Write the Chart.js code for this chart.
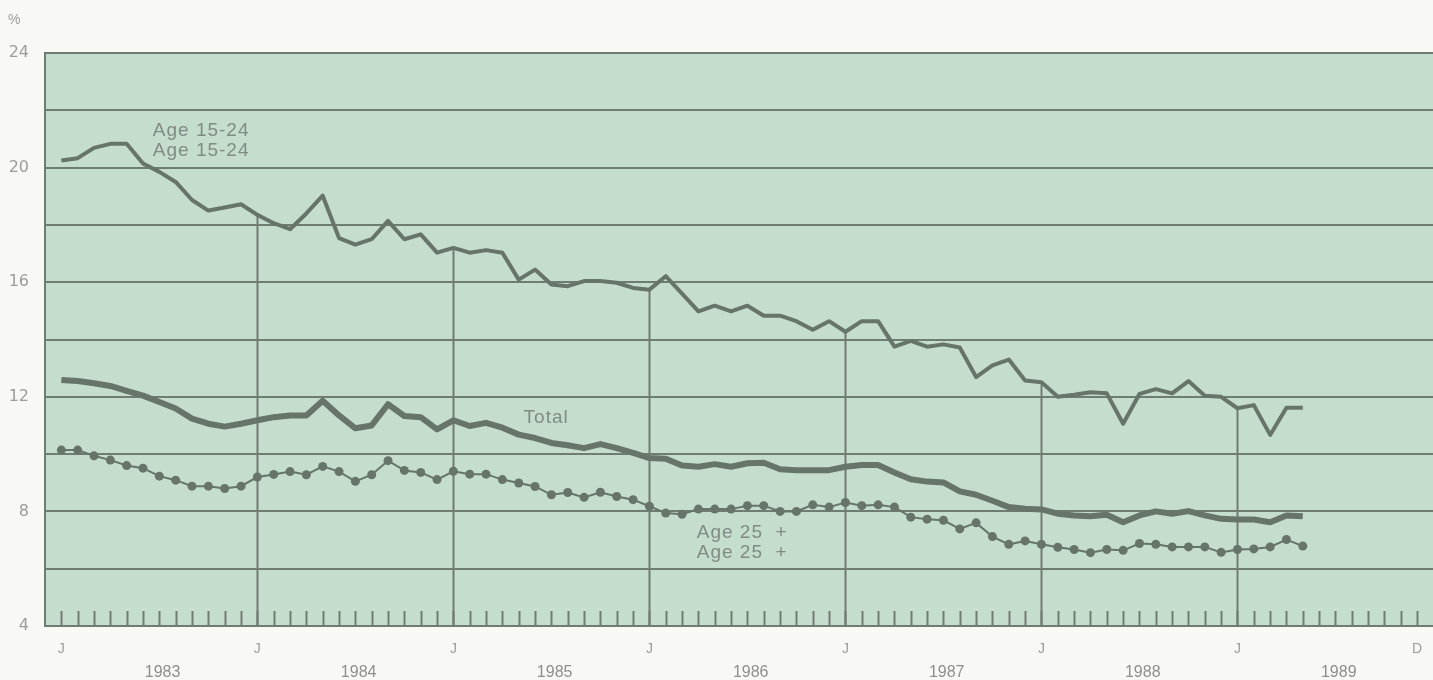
<!DOCTYPE html>
<html>
<head>
<meta charset="utf-8">
<script src="https://cdn.jsdelivr.net/npm/chart.js@4/dist/chart.umd.min.js"></script>
<style>
  html, body { margin: 0; padding: 0; background: #f8f8f5; overflow: hidden; }
  #wrap { width: 1433px; height: 680px; position: relative; overflow: hidden; }
  #c { display: block; }
</style>
</head>
<body>
<div id="wrap"><canvas id="c" width="1438" height="680"></canvas></div>
<script>
// ---------- DATA ----------
const months = [
  'Jan 1983','Feb 1983','Mar 1983','Apr 1983','May 1983','Jun 1983','Jul 1983','Aug 1983','Sep 1983','Oct 1983','Nov 1983','Dec 1983',
  'Jan 1984','Feb 1984','Mar 1984','Apr 1984','May 1984','Jun 1984','Jul 1984','Aug 1984','Sep 1984','Oct 1984','Nov 1984','Dec 1984',
  'Jan 1985','Feb 1985','Mar 1985','Apr 1985','May 1985','Jun 1985','Jul 1985','Aug 1985','Sep 1985','Oct 1985','Nov 1985','Dec 1985',
  'Jan 1986','Feb 1986','Mar 1986','Apr 1986','May 1986','Jun 1986','Jul 1986','Aug 1986','Sep 1986','Oct 1986','Nov 1986','Dec 1986',
  'Jan 1987','Feb 1987','Mar 1987','Apr 1987','May 1987','Jun 1987','Jul 1987','Aug 1987','Sep 1987','Oct 1987','Nov 1987','Dec 1987',
  'Jan 1988','Feb 1988','Mar 1988','Apr 1988','May 1988','Jun 1988','Jul 1988','Aug 1988','Sep 1988','Oct 1988','Nov 1988','Dec 1988',
  'Jan 1989','Feb 1989','Mar 1989','Apr 1989','May 1989'
];

const age15to24 = [
  20.25, 20.33, 20.69, 20.83, 20.83, 20.14, 19.85, 19.50, 18.87, 18.50, 18.61, 18.72,
  18.35, 18.06, 17.85, 18.40, 19.02, 17.54, 17.31, 17.50, 18.14, 17.50, 17.67, 17.03,
  17.20, 17.03, 17.12, 17.03, 16.09, 16.44, 15.92, 15.86, 16.04, 16.04, 15.98, 15.80,
  15.74, 16.21, 15.60, 14.98, 15.18, 14.98, 15.18, 14.83, 14.83, 14.64, 14.34, 14.64,
  14.27, 14.64, 14.64, 13.75, 13.95, 13.75, 13.83, 13.72, 12.69, 13.10, 13.30, 12.57,
  12.51, 12.00, 12.07, 12.16, 12.12, 11.06, 12.10, 12.27, 12.12, 12.55, 12.04, 12.00,
  11.60, 11.71, 10.67, 11.62, 11.62
];

const total = [
  12.59, 12.55, 12.47, 12.38, 12.21, 12.04, 11.82, 11.59, 11.24, 11.06, 10.96, 11.06,
  11.18, 11.29, 11.35, 11.35, 11.86, 11.35, 10.90, 11.00, 11.74, 11.33, 11.29, 10.86,
  11.18, 10.98, 11.09, 10.92, 10.68, 10.56, 10.39, 10.31, 10.21, 10.35, 10.21, 10.04,
  9.86, 9.84, 9.60, 9.56, 9.65, 9.56, 9.68, 9.70, 9.47, 9.44, 9.44, 9.44,
  9.56, 9.62, 9.62, 9.36, 9.12, 9.04, 9.01, 8.70, 8.58, 8.37, 8.15, 8.09,
  8.07, 7.92, 7.86, 7.83, 7.88, 7.62, 7.86, 8.00, 7.92, 8.01, 7.86, 7.74,
  7.72, 7.72, 7.62, 7.86, 7.83
];

const age25plus = [
  10.14, 10.14, 9.94, 9.79, 9.60, 9.51, 9.23, 9.09, 8.88, 8.88, 8.80, 8.88,
  9.20, 9.29, 9.39, 9.28, 9.57, 9.39, 9.05, 9.28, 9.77, 9.43, 9.36, 9.11,
  9.40, 9.30, 9.30, 9.11, 8.99, 8.87, 8.58, 8.66, 8.49, 8.67, 8.52, 8.41,
  8.18, 7.94, 7.90, 8.08, 8.08, 8.08, 8.20, 8.20, 8.00, 8.00, 8.23, 8.15,
  8.31, 8.20, 8.23, 8.15, 7.80, 7.73, 7.69, 7.39, 7.60, 7.12, 6.85, 6.97,
  6.85, 6.75, 6.67, 6.56, 6.67, 6.64, 6.88, 6.85, 6.76, 6.76, 6.76, 6.57,
  6.67, 6.69, 6.76, 7.02, 6.79
];

// x-axis month tick labels (J = January of each year, D = December 1989)
const monthTickValues = [0, 12, 24, 36, 48, 60, 72, 83];
const monthTickLabels = ['J', 'J', 'J', 'J', 'J', 'J', 'J', 'D'];
const yearLabels = ['1983', '1984', '1985', '1986', '1987', '1988', '1989'];
const yearCentres = [6.2, 18.2, 30.2, 42.2, 54.2, 66.2, 78.2];
const monthsOnAxis = 84; // Jan 1983 .. Dec 1989
const yTickLabelsShown = [4, 8, 12, 16, 20, 24];

// ---------- STYLE ----------
const INK = '#66746a';
const GRID = '#6f7c72';
const PLOT_BG = '#c5ddcd';
const LABEL_INK = '#808b84';
const AXIS_TEXT = '#9c9c9a';
const FONT = "'Liberation Sans', Arial, sans-serif";

const annotations = [
  { text: 'Age 15-24', x: 5.6, y: 21.3 },
  { text: 'Age 15-24', x: 5.6, y: 20.6 },
  { text: 'Total', x: 28.3, y: 11.26 },
  { text: 'Age 25  +', x: 38.9, y: 7.25 },
  { text: 'Age 25  +', x: 38.9, y: 6.55 }
];

const toXY = arr => arr.map((v, i) => ({ x: months.indexOf(months[i]), y: v }));

const decor = {
  id: 'decor',
  beforeDraw(chart) {
    const { ctx, chartArea: a } = chart;
    ctx.save();
    ctx.fillStyle = PLOT_BG;
    ctx.fillRect(a.left, a.top, a.right - a.left, a.bottom - a.top);
    ctx.restore();
  },
  beforeDatasetsDraw(chart) {
    const { ctx, chartArea: a, scales: { x, y } } = chart;
    ctx.save();
    ctx.strokeStyle = GRID;
    ctx.lineWidth = 2;
    for (let m = 0; m < monthsOnAxis; m++) {
      const px = Math.round(x.getPixelForValue(m)) + 0.5;
      ctx.beginPath();
      ctx.moveTo(px, a.bottom);
      ctx.lineTo(px, a.bottom - 15);
      ctx.stroke();
    }
    monthTickValues.forEach((k, idx) => {
      if (k === 0 || monthTickLabels[idx] !== 'J' || k >= age15to24.length) return;
      const px = Math.round(x.getPixelForValue(k)) + 0.5;
      ctx.beginPath();
      ctx.moveTo(px, y.getPixelForValue(4));
      ctx.lineTo(px, y.getPixelForValue(age15to24[k]));
      ctx.stroke();
    });
    ctx.restore();
  },
  afterDatasetsDraw(chart) {
    const { ctx, chartArea: a, scales: { x, y } } = chart;
    ctx.save();
    ctx.fillStyle = LABEL_INK;
    ctx.font = '19px ' + FONT;
    ctx.letterSpacing = '1px';
    ctx.textBaseline = 'middle';
    ctx.textAlign = 'left';
    annotations.forEach(t => {
      ctx.fillText(t.text, x.getPixelForValue(t.x), y.getPixelForValue(t.y));
    });
    ctx.letterSpacing = '0px';
    ctx.fillStyle = AXIS_TEXT;
    ctx.font = '14px ' + FONT;
    ctx.fillText('%', 8, a.top - 33);
    ctx.restore();
  }
};

const fitX = h => s => { s.height = h; s.paddingLeft = 0; s.paddingRight = 0; };

new Chart(document.getElementById('c'), {
  type: 'line',
  data: {
    datasets: [
      { label: 'Age 15-24', data: toXY(age15to24), borderColor: INK, borderWidth: 4, pointRadius: 0, tension: 0, borderJoinStyle: 'round' },
      { label: 'Total', data: toXY(total), borderColor: INK, borderWidth: 6, pointRadius: 0, tension: 0, borderJoinStyle: 'round' },
      { label: 'Age 25 +', data: toXY(age25plus), borderColor: INK, borderWidth: 2, pointRadius: 4.5, pointBackgroundColor: INK, pointBorderWidth: 0, tension: 0 }
    ]
  },
  options: {
    responsive: false,
    animation: false,
    devicePixelRatio: 1,
    layout: { padding: { top: 53, right: 0, bottom: 0, left: 0 } },
    plugins: { legend: { display: false }, tooltip: { enabled: false }, title: { display: false } },
    scales: {
      x: {
        type: 'linear',
        position: 'bottom',
        min: -1,
        max: 84,
        grid: { display: false, drawTicks: false, tickLength: 0 },
        border: { display: false },
        afterBuildTicks: s => { s.ticks = monthTickValues.map(v => ({ value: v })); },
        afterFit: fitX(34),
        ticks: {
          autoSkip: false,
          maxRotation: 0,
          padding: 15,
          color: AXIS_TEXT,
          font: { family: FONT, size: 14 },
          callback: v => monthTickLabels[monthTickValues.indexOf(v)]
        }
      },
      x2: {
        type: 'linear',
        position: 'bottom',
        min: -1,
        max: 84,
        grid: { display: false, drawTicks: false, tickLength: 0 },
        border: { display: false },
        afterBuildTicks: s => { s.ticks = yearCentres.map(v => ({ value: v })); },
        afterFit: fitX(20),
        ticks: {
          autoSkip: false,
          maxRotation: 0,
          padding: 3,
          color: '#8e8e8c',
          font: { family: FONT, size: 16 },
          callback: v => yearLabels[yearCentres.indexOf(v)]
        }
      },
      y: {
        type: 'linear',
        min: 4,
        max: 24,
        afterFit: s => { s.width = 45; },
        grid: { color: GRID, lineWidth: 2, drawTicks: false, tickLength: 0 },
        border: { display: true, color: GRID, width: 2 },
        ticks: {
          stepSize: 2,
          padding: 16,
          color: AXIS_TEXT,
          font: { family: "'DejaVu Sans', sans-serif", size: 16 },
          callback: v => yTickLabelsShown.includes(v) ? String(v) : ''
        }
      }
    }
  },
  plugins: [decor]
});
</script>
</body>
</html>
